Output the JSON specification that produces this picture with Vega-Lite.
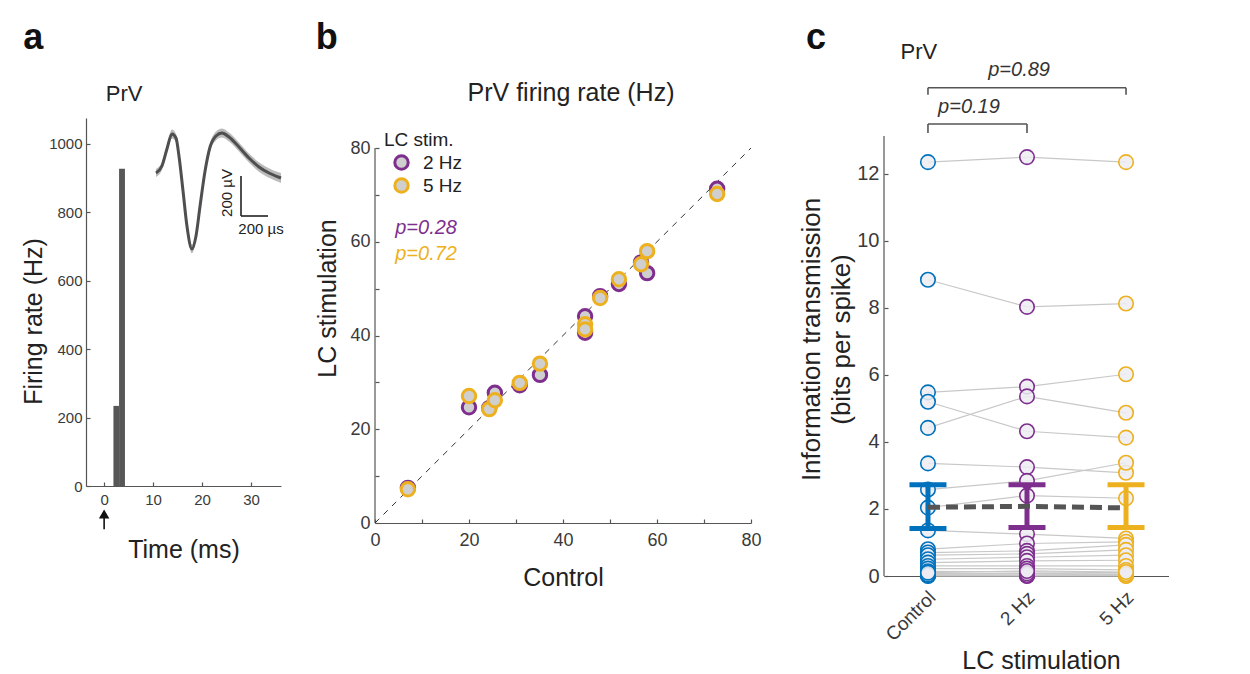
{
  "$schema": "https://vega.github.io/schema/vega-lite/v6.json",
  "padding": {"left": 21, "top": 19, "right": 0, "bottom": 0},
  "config": {
    "font": "Liberation Sans",
    "view": {"stroke": null},
    "axis": {"grid": false, "labelFlush": false, "domainColor": "#555555", "tickColor": "#555555", "labelColor": "#3a3a3a", "titleColor": "#222222", "titleFontWeight": "normal", "domainWidth": 1.2, "tickWidth": 1.2, "labelFont": "Liberation Sans", "titleFont": "Liberation Sans"},
    "legend": {"labelFont": "Liberation Sans", "labelColor": "#222222"}
  },
  "spacing": 28,
  "resolve": {"scale": {"stroke": "independent", "color": "independent"}, "legend": {"stroke": "independent", "color": "independent"}},
  "hconcat": [
    {
      "width": 195,
      "height": 368,
      "resolve": {"scale": {"x": "independent", "y": "independent"}},
      "layer": [
        {
          "data": {"values": [{"t0": 1.9, "t1": 3.05, "rate": 234}, {"t0": 3.05, "t1": 4.25, "rate": 927}]},
          "mark": {"type": "rect", "color": "#575757"},
          "encoding": {
            "x": {"field": "t0", "type": "quantitative", "scale": {"domain": [-3.7, 36.1], "nice": false, "zero": false},
              "axis": {"title": "Time (ms)", "values": [0, 10, 20, 30], "tickSize": -4, "labelPadding": 10, "labelFontSize": 15, "titleFontSize": 25, "titlePadding": 30}},
            "x2": {"field": "t1"},
            "y": {"field": "rate", "type": "quantitative", "scale": {"domain": [0, 1075], "nice": false, "zero": false},
              "axis": {"title": "Firing rate (Hz)", "format": "d", "values": [0, 200, 400, 600, 800, 1000], "tickSize": -4, "labelPadding": 8, "labelFontSize": 15, "titleFontSize": 25, "titlePadding": 2, "titleY": 203}},
            "y2": {"datum": 0}
          }
        },
        {
          "layer": [
            {
              "data": {"values": [{}]},
              "mark": {"type": "rule", "color": "#111111", "strokeWidth": 1.6},
              "encoding": {
                "x": {"datum": 0, "type": "quantitative", "scale": {"domain": [-3.7, 36.1], "nice": false, "zero": false}, "axis": null},
                "y": {"datum": -82, "type": "quantitative", "scale": {"domain": [0, 1075], "nice": false, "zero": false}, "axis": null},
                "y2": {"datum": -126}
              }
            },
            {
              "data": {"values": [{}]},
              "mark": {"type": "point", "shape": "triangle-up", "filled": true, "color": "#111111", "size": 110, "opacity": 1},
              "encoding": {
                "x": {"datum": 0, "type": "quantitative", "scale": {"domain": [-3.7, 36.1], "nice": false, "zero": false}, "axis": null},
                "y": {"datum": -82, "type": "quantitative", "scale": {"domain": [0, 1075], "nice": false, "zero": false}, "axis": null}
              }
            },
            {
              "data": {"values": [{}]},
              "mark": {"type": "text", "text": "PrV", "fontSize": 22, "align": "center", "baseline": "alphabetic", "color": "#222222"},
              "encoding": {
                "x": {"datum": 4.1, "type": "quantitative", "scale": {"domain": [-3.7, 36.1], "nice": false, "zero": false}, "axis": null},
                "y": {"datum": 1126, "type": "quantitative", "scale": {"domain": [0, 1075], "nice": false, "zero": false}, "axis": null}
              }
            },
            {
              "data": {"values": [{}]},
              "mark": {"type": "text", "text": "a", "fontSize": 36, "fontWeight": "bold", "align": "left", "baseline": "alphabetic", "color": "#111111"},
              "encoding": {
                "x": {"datum": -16.5, "type": "quantitative", "scale": {"domain": [-3.7, 36.1], "nice": false, "zero": false}, "axis": null},
                "y": {"datum": 1278, "type": "quantitative", "scale": {"domain": [0, 1075], "nice": false, "zero": false}, "axis": null}
              }
            }
          ]
        },
        {
          "layer": [
            {
              "data": {"values": [
                {"us": 0, "uv": 0, "lo": -20, "hi": 20}, {"us": 44, "uv": 35, "lo": 15, "hi": 55}, {"us": 81, "uv": 120, "lo": 100, "hi": 140},
                {"us": 118, "uv": 195, "lo": 173, "hi": 217}, {"us": 148, "uv": 175, "lo": 155, "hi": 195}, {"us": 170, "uv": 85, "lo": 65, "hi": 105},
                {"us": 200, "uv": -90, "lo": -110, "hi": -70}, {"us": 229, "uv": -265, "lo": -285, "hi": -245}, {"us": 266, "uv": -380, "lo": -402, "hi": -358},
                {"us": 296, "uv": -315, "lo": -335, "hi": -295}, {"us": 326, "uv": -165, "lo": -185, "hi": -145}, {"us": 363, "uv": 10, "lo": -10, "hi": 30},
                {"us": 400, "uv": 130, "lo": 110, "hi": 150}, {"us": 444, "uv": 185, "lo": 163, "hi": 207}, {"us": 488, "uv": 200, "lo": 177, "hi": 223},
                {"us": 540, "uv": 180, "lo": 157, "hi": 203}, {"us": 614, "uv": 130, "lo": 107, "hi": 153}, {"us": 688, "uv": 75, "lo": 52, "hi": 98},
                {"us": 762, "uv": 30, "lo": 6, "hi": 54}, {"us": 836, "uv": 0, "lo": -24, "hi": 24}, {"us": 925, "uv": -25, "lo": -50, "hi": 0}
              ]},
              "mark": {"type": "area", "color": "#b4b4b4", "opacity": 0.9, "interpolate": "monotone"},
              "encoding": {
                "x": {"field": "us", "type": "quantitative", "scale": {"domain": [-518, 925], "nice": false, "zero": false}, "axis": null},
                "y": {"field": "lo", "type": "quantitative", "scale": {"domain": [-1565, 275], "nice": false, "zero": false}, "axis": null},
                "y2": {"field": "hi"}
              }
            },
            {
              "data": {"values": [
                {"us": 0, "uv": 0}, {"us": 44, "uv": 35}, {"us": 81, "uv": 120}, {"us": 118, "uv": 195}, {"us": 148, "uv": 175}, {"us": 170, "uv": 85},
                {"us": 200, "uv": -90}, {"us": 229, "uv": -265}, {"us": 266, "uv": -380}, {"us": 296, "uv": -315}, {"us": 326, "uv": -165}, {"us": 363, "uv": 10},
                {"us": 400, "uv": 130}, {"us": 444, "uv": 185}, {"us": 488, "uv": 200}, {"us": 540, "uv": 180}, {"us": 614, "uv": 130}, {"us": 688, "uv": 75},
                {"us": 762, "uv": 30}, {"us": 836, "uv": 0}, {"us": 925, "uv": -25}
              ]},
              "mark": {"type": "line", "color": "#4f4f4f", "strokeWidth": 3, "interpolate": "monotone"},
              "encoding": {
                "x": {"field": "us", "type": "quantitative", "scale": {"domain": [-518, 925], "nice": false, "zero": false}, "axis": null},
                "y": {"field": "uv", "type": "quantitative", "scale": {"domain": [-1565, 275], "nice": false, "zero": false}, "axis": null}
              }
            },
            {
              "data": {"values": [{}]},
              "mark": {"type": "rule", "color": "#222222", "strokeWidth": 1.6},
              "encoding": {
                "x": {"datum": 629, "type": "quantitative", "scale": {"domain": [-518, 925], "nice": false, "zero": false}, "axis": null},
                "y": {"datum": -15, "type": "quantitative", "scale": {"domain": [-1565, 275], "nice": false, "zero": false}, "axis": null},
                "y2": {"datum": -215}
              }
            },
            {
              "data": {"values": [{}]},
              "mark": {"type": "rule", "color": "#222222", "strokeWidth": 1.6},
              "encoding": {
                "x": {"datum": 629, "type": "quantitative", "scale": {"domain": [-518, 925], "nice": false, "zero": false}, "axis": null},
                "x2": {"datum": 829},
                "y": {"datum": -215, "type": "quantitative", "scale": {"domain": [-1565, 275], "nice": false, "zero": false}, "axis": null}
              }
            },
            {
              "data": {"values": [{}]},
              "mark": {"type": "text", "text": "200 µV", "fontSize": 15, "angle": 270, "align": "center", "baseline": "middle", "color": "#222222"},
              "encoding": {
                "x": {"datum": 525, "type": "quantitative", "scale": {"domain": [-518, 925], "nice": false, "zero": false}, "axis": null},
                "y": {"datum": -100, "type": "quantitative", "scale": {"domain": [-1565, 275], "nice": false, "zero": false}, "axis": null}
              }
            },
            {
              "data": {"values": [{}]},
              "mark": {"type": "text", "text": "200 µs", "fontSize": 15, "align": "center", "baseline": "alphabetic", "color": "#222222"},
              "encoding": {
                "x": {"datum": 777, "type": "quantitative", "scale": {"domain": [-518, 925], "nice": false, "zero": false}, "axis": null},
                "y": {"datum": -305, "type": "quantitative", "scale": {"domain": [-1565, 275], "nice": false, "zero": false}, "axis": null}
              }
            }
          ]
        }
      ]
    },
    {
      "spacing": 36,
      "resolve": {"scale": {"stroke": "independent", "color": "independent"}, "legend": {"stroke": "independent", "color": "independent"}},
      "hconcat": [
        {
          "width": 376,
          "height": 405,
          "resolve": {"scale": {"x": "independent", "y": "independent"}},
          "layer": [
            {
              "data": {"values": [{"control": 0, "lc": 0}, {"control": 80, "lc": 80}]},
              "mark": {"type": "point", "opacity": 0},
              "encoding": {
                "x": {"field": "control", "type": "quantitative", "scale": {"domain": [0, 80], "nice": false},
                  "axis": {"title": "Control", "values": [0, 10, 20, 30, 40, 50, 60, 70, 80], "labelExpr": "datum.value % 20 == 0 ? datum.label : ''", "tickSize": -4, "labelPadding": 12, "labelFontSize": 18, "titleFontSize": 25, "titlePadding": 16}},
                "y": {"field": "lc", "type": "quantitative", "scale": {"domain": [0, 86.4], "nice": false},
                  "axis": {"title": "LC stimulation", "domain": false, "values": [0, 10, 20, 30, 40, 50, 60, 70, 80], "labelExpr": "datum.value % 20 == 0 ? datum.label : ''", "tickSize": -4, "labelPadding": 9, "labelFontSize": 18, "titleFontSize": 25, "titlePadding": 9, "titleY": 180}}
              }
            },
            {
              "layer": [
                {
                  "data": {"values": [{}]},
                  "mark": {"type": "rule", "color": "#555555", "strokeWidth": 1.2},
                  "encoding": {
                    "x": {"datum": 0, "type": "quantitative", "scale": {"domain": [0, 80], "nice": false}, "axis": null},
                    "y": {"datum": 0, "type": "quantitative", "scale": {"domain": [0, 86.4], "nice": false}, "axis": null},
                    "y2": {"datum": 80}
                  }
                },
                {
                  "data": {"values": [{}]},
                  "mark": {"type": "rule", "strokeDash": [6, 6], "color": "#333333", "strokeWidth": 1},
                  "encoding": {
                    "x": {"datum": 0, "type": "quantitative", "scale": {"domain": [0, 80], "nice": false}, "axis": null},
                    "y": {"datum": 0, "type": "quantitative", "scale": {"domain": [0, 86.4], "nice": false}, "axis": null},
                    "x2": {"datum": 80},
                    "y2": {"datum": 80}
                  }
                },
                {
                  "data": {"values": [
                    {"freq": "2 Hz", "control": 7.0, "lc": 7.5}, {"freq": "2 Hz", "control": 20.0, "lc": 24.7}, {"freq": "2 Hz", "control": 24.3, "lc": 24.5},
                    {"freq": "2 Hz", "control": 25.5, "lc": 27.8}, {"freq": "2 Hz", "control": 30.8, "lc": 29.4}, {"freq": "2 Hz", "control": 35.1, "lc": 31.6},
                    {"freq": "2 Hz", "control": 44.7, "lc": 44.1}, {"freq": "2 Hz", "control": 44.7, "lc": 40.6}, {"freq": "2 Hz", "control": 47.9, "lc": 48.4},
                    {"freq": "2 Hz", "control": 51.9, "lc": 51.0}, {"freq": "2 Hz", "control": 56.6, "lc": 55.6}, {"freq": "2 Hz", "control": 57.9, "lc": 53.3},
                    {"freq": "2 Hz", "control": 72.8, "lc": 71.3},
                    {"freq": "5 Hz", "control": 7.0, "lc": 7.2}, {"freq": "5 Hz", "control": 20.0, "lc": 27.1}, {"freq": "5 Hz", "control": 24.3, "lc": 24.3},
                    {"freq": "5 Hz", "control": 25.5, "lc": 26.2}, {"freq": "5 Hz", "control": 30.8, "lc": 29.9}, {"freq": "5 Hz", "control": 35.1, "lc": 34.0},
                    {"freq": "5 Hz", "control": 44.7, "lc": 42.4}, {"freq": "5 Hz", "control": 44.7, "lc": 41.3}, {"freq": "5 Hz", "control": 47.9, "lc": 48.0},
                    {"freq": "5 Hz", "control": 51.9, "lc": 52.0}, {"freq": "5 Hz", "control": 56.6, "lc": 55.2}, {"freq": "5 Hz", "control": 57.9, "lc": 58.0},
                    {"freq": "5 Hz", "control": 72.8, "lc": 70.2}
                  ]},
                  "mark": {"type": "point", "shape": "circle", "filled": true, "fill": "#cfcfcf", "strokeWidth": 3, "size": 180, "opacity": 1},
                  "encoding": {
                    "x": {"field": "control", "type": "quantitative", "scale": {"domain": [0, 80], "nice": false}, "axis": null},
                    "y": {"field": "lc", "type": "quantitative", "scale": {"domain": [0, 86.4], "nice": false}, "axis": null},
                    "stroke": {"field": "freq", "type": "nominal", "scale": {"domain": ["2 Hz", "5 Hz"], "range": ["#7E2F8E", "#EDB120"]},
                      "legend": {"orient": "none", "legendX": 17, "legendY": 35, "title": null, "labelFontSize": 19, "symbolSize": 180, "symbolStrokeWidth": 3, "symbolFillColor": "#cfcfcf", "symbolType": "circle", "rowPadding": -6, "labelOffset": 12, "padding": 0}}
                  }
                },
                {
                  "data": {"values": [{}]},
                  "mark": {"type": "text", "text": "PrV firing rate (Hz)", "fontSize": 25, "align": "center", "baseline": "middle", "color": "#222222"},
                  "encoding": {
                    "x": {"datum": 41.7, "type": "quantitative", "scale": {"domain": [0, 80], "nice": false}, "axis": null},
                    "y": {"datum": 91.7, "type": "quantitative", "scale": {"domain": [0, 86.4], "nice": false}, "axis": null}
                  }
                },
                {
                  "data": {"values": [{}]},
                  "mark": {"type": "text", "text": "LC stim.", "fontSize": 19, "align": "left", "baseline": "alphabetic", "color": "#222222"},
                  "encoding": {
                    "x": {"datum": 1.9, "type": "quantitative", "scale": {"domain": [0, 80], "nice": false}, "axis": null},
                    "y": {"datum": 80.4, "type": "quantitative", "scale": {"domain": [0, 86.4], "nice": false}, "axis": null}
                  }
                },
                {
                  "data": {"values": [{}]},
                  "mark": {"type": "text", "text": "p=0.28", "fontSize": 20, "fontStyle": "italic", "align": "left", "baseline": "middle", "color": "#7E2F8E"},
                  "encoding": {
                    "x": {"datum": 4.3, "type": "quantitative", "scale": {"domain": [0, 80], "nice": false}, "axis": null},
                    "y": {"datum": 62.9, "type": "quantitative", "scale": {"domain": [0, 86.4], "nice": false}, "axis": null}
                  }
                },
                {
                  "data": {"values": [{}]},
                  "mark": {"type": "text", "text": "p=0.72", "fontSize": 20, "fontStyle": "italic", "align": "left", "baseline": "middle", "color": "#EDB120"},
                  "encoding": {
                    "x": {"datum": 4.3, "type": "quantitative", "scale": {"domain": [0, 80], "nice": false}, "axis": null},
                    "y": {"datum": 57.4, "type": "quantitative", "scale": {"domain": [0, 86.4], "nice": false}, "axis": null}
                  }
                },
                {
                  "data": {"values": [{}]},
                  "mark": {"type": "text", "text": "b", "fontSize": 36, "fontWeight": "bold", "align": "left", "baseline": "alphabetic", "color": "#111111"},
                  "encoding": {
                    "x": {"datum": -12.6, "type": "quantitative", "scale": {"domain": [0, 80], "nice": false}, "axis": null},
                    "y": {"datum": 101.1, "type": "quantitative", "scale": {"domain": [0, 86.4], "nice": false}, "axis": null}
                  }
                }
              ]
            }
          ]
        },
        {
          "width": 285,
          "height": 458,
          "resolve": {"scale": {"x": "independent", "y": "independent"}},
          "layer": [
            {
              "data": {"values": [{"c": 1, "v": 0}, {"c": 3, "v": 12}]},
              "mark": {"type": "point", "opacity": 0},
              "encoding": {
                "x": {"field": "c", "type": "quantitative", "scale": {"domain": [0.556, 3.434], "nice": false, "zero": false},
                  "axis": {"title": "LC stimulation", "values": [1, 2, 3], "labelExpr": "datum.value == 1 ? 'Control' : datum.value == 2 ? '2 Hz' : '5 Hz'", "ticks": false, "labelAngle": -45, "labelAlign": "right", "labelBaseline": "middle", "labelPadding": 18, "labelOffset": 4, "labelFontSize": 19, "titleFontSize": 25, "titlePadding": 4, "titleX": 157}},
                "y": {"field": "v", "type": "quantitative", "scale": {"domain": [0, 13.667], "nice": false},
                  "axis": {"title": ["Information transmission", "(bits per spike)"], "domain": false, "values": [0, 2, 4, 6, 8, 10, 12], "tickSize": -4, "labelPadding": 9, "labelFontSize": 20, "titleFontSize": 26, "titleLineHeight": 30, "titlePadding": 2, "titleY": 221}}
              }
            },
            {
              "layer": [
                {
                  "data": {"values": [{}]},
                  "mark": {"type": "rule", "color": "#555555", "strokeWidth": 1.2},
                  "encoding": {
                    "x": {"datum": 0.556, "type": "quantitative", "scale": {"domain": [0.556, 3.434], "nice": false, "zero": false}, "axis": null},
                    "y": {"datum": 0, "type": "quantitative", "scale": {"domain": [0, 13.667], "nice": false}, "axis": null},
                    "y2": {"datum": 13.13}
                  }
                },
                {
                  "data": {"name": "neurons", "values": [
                    {"n": 1, "c": 1, "v": 12.35}, {"n": 1, "c": 2, "v": 12.5}, {"n": 1, "c": 3, "v": 12.35},
                    {"n": 2, "c": 1, "v": 8.84}, {"n": 2, "c": 2, "v": 8.03}, {"n": 2, "c": 3, "v": 8.13},
                    {"n": 3, "c": 1, "v": 5.48}, {"n": 3, "c": 2, "v": 5.65}, {"n": 3, "c": 3, "v": 6.02},
                    {"n": 4, "c": 1, "v": 5.2}, {"n": 4, "c": 2, "v": 4.32}, {"n": 4, "c": 3, "v": 4.13},
                    {"n": 5, "c": 1, "v": 4.42}, {"n": 5, "c": 2, "v": 5.36}, {"n": 5, "c": 3, "v": 4.87},
                    {"n": 6, "c": 1, "v": 3.36}, {"n": 6, "c": 2, "v": 3.25}, {"n": 6, "c": 3, "v": 3.08},
                    {"n": 7, "c": 1, "v": 2.58}, {"n": 7, "c": 2, "v": 2.84}, {"n": 7, "c": 3, "v": 3.38},
                    {"n": 8, "c": 1, "v": 2.04}, {"n": 8, "c": 2, "v": 2.4}, {"n": 8, "c": 3, "v": 2.32},
                    {"n": 9, "c": 1, "v": 1.36}, {"n": 9, "c": 2, "v": 1.25}, {"n": 9, "c": 3, "v": 1.12},
                    {"n": 10, "c": 1, "v": 0.8}, {"n": 10, "c": 2, "v": 0.97}, {"n": 10, "c": 3, "v": 1.02},
                    {"n": 11, "c": 1, "v": 0.7}, {"n": 11, "c": 2, "v": 0.75}, {"n": 11, "c": 3, "v": 0.93},
                    {"n": 12, "c": 1, "v": 0.62}, {"n": 12, "c": 2, "v": 0.66}, {"n": 12, "c": 3, "v": 0.78},
                    {"n": 13, "c": 1, "v": 0.5}, {"n": 13, "c": 2, "v": 0.56}, {"n": 13, "c": 3, "v": 0.62},
                    {"n": 14, "c": 1, "v": 0.4}, {"n": 14, "c": 2, "v": 0.45}, {"n": 14, "c": 3, "v": 0.47},
                    {"n": 15, "c": 1, "v": 0.3}, {"n": 15, "c": 2, "v": 0.3}, {"n": 15, "c": 3, "v": 0.3},
                    {"n": 16, "c": 1, "v": 0.22}, {"n": 16, "c": 2, "v": 0.22}, {"n": 16, "c": 3, "v": 0.18},
                    {"n": 17, "c": 1, "v": 0.14}, {"n": 17, "c": 2, "v": 0.12}, {"n": 17, "c": 3, "v": 0.1},
                    {"n": 18, "c": 1, "v": 0.07}, {"n": 18, "c": 2, "v": 0.06}, {"n": 18, "c": 3, "v": 0.05},
                    {"n": 19, "c": 1, "v": 0.03}, {"n": 19, "c": 2, "v": 0.02}, {"n": 19, "c": 3, "v": 0.02},
                    {"n": 20, "c": 1, "v": 0.01}, {"n": 20, "c": 2, "v": 0.01}, {"n": 20, "c": 3, "v": 0.01},
                    {"n": 21, "c": 1, "v": 0.0}, {"n": 21, "c": 2, "v": 0.0}, {"n": 21, "c": 3, "v": 0.0},
                    {"n": 22, "c": 1, "v": 0.02}, {"n": 22, "c": 2, "v": 0.03}, {"n": 22, "c": 3, "v": 0.04},
                    {"n": 23, "c": 1, "v": 0.05}, {"n": 23, "c": 2, "v": 0.08}, {"n": 23, "c": 3, "v": 0.06},
                    {"n": 24, "c": 1, "v": 0.1}, {"n": 24, "c": 2, "v": 0.15}, {"n": 24, "c": 3, "v": 0.12}
                  ]},
                  "mark": {"type": "line", "color": "#c8c8c8", "strokeWidth": 1.2},
                  "encoding": {
                    "x": {"field": "c", "type": "quantitative", "scale": {"domain": [0.556, 3.434], "nice": false, "zero": false}, "axis": null},
                    "y": {"field": "v", "type": "quantitative", "scale": {"domain": [0, 13.667], "nice": false}, "axis": null},
                    "detail": {"field": "n", "type": "nominal"}
                  }
                },
                {
                  "data": {"name": "neurons"},
                  "mark": {"type": "point", "shape": "circle", "filled": true, "fill": "#ececf2", "fillOpacity": 0.85, "strokeWidth": 1.6, "size": 210, "opacity": 1},
                  "encoding": {
                    "x": {"field": "c", "type": "quantitative", "scale": {"domain": [0.556, 3.434], "nice": false, "zero": false}, "axis": null},
                    "y": {"field": "v", "type": "quantitative", "scale": {"domain": [0, 13.667], "nice": false}, "axis": null},
                    "stroke": {"field": "c", "type": "nominal", "scale": {"domain": [1, 2, 3], "range": ["#0072BD", "#7E2F8E", "#EDB120"]}, "legend": null}
                  }
                },
                {
                  "data": {"name": "summary", "values": [{"c": 1, "mean": 2.05, "lo": 1.42, "hi": 2.72}, {"c": 2, "mean": 2.08, "lo": 1.45, "hi": 2.72}, {"c": 3, "mean": 2.03, "lo": 1.45, "hi": 2.72}]},
                  "mark": {"type": "rule", "strokeWidth": 5},
                  "encoding": {
                    "x": {"field": "c", "type": "quantitative", "scale": {"domain": [0.556, 3.434], "nice": false, "zero": false}, "axis": null},
                    "y": {"field": "lo", "type": "quantitative", "scale": {"domain": [0, 13.667], "nice": false}, "axis": null},
                    "y2": {"field": "hi"},
                    "stroke": {"field": "c", "type": "nominal", "scale": {"domain": [1, 2, 3], "range": ["#0072BD", "#7E2F8E", "#EDB120"]}, "legend": null}
                  }
                },
                {
                  "data": {"name": "summary"},
                  "mark": {"type": "tick", "orient": "horizontal", "size": 37, "thickness": 5, "opacity": 1},
                  "encoding": {
                    "x": {"field": "c", "type": "quantitative", "scale": {"domain": [0.556, 3.434], "nice": false, "zero": false}, "axis": null},
                    "y": {"field": "hi", "type": "quantitative", "scale": {"domain": [0, 13.667], "nice": false}, "axis": null},
                    "color": {"field": "c", "type": "nominal", "scale": {"domain": [1, 2, 3], "range": ["#0072BD", "#7E2F8E", "#EDB120"]}, "legend": null}
                  }
                },
                {
                  "data": {"name": "summary"},
                  "mark": {"type": "tick", "orient": "horizontal", "size": 37, "thickness": 5, "opacity": 1},
                  "encoding": {
                    "x": {"field": "c", "type": "quantitative", "scale": {"domain": [0.556, 3.434], "nice": false, "zero": false}, "axis": null},
                    "y": {"field": "lo", "type": "quantitative", "scale": {"domain": [0, 13.667], "nice": false}, "axis": null},
                    "color": {"field": "c", "type": "nominal", "scale": {"domain": [1, 2, 3], "range": ["#0072BD", "#7E2F8E", "#EDB120"]}, "legend": null}
                  }
                },
                {
                  "data": {"name": "summary"},
                  "mark": {"type": "line", "color": "#555555", "strokeWidth": 5, "strokeDash": [12, 6]},
                  "encoding": {
                    "x": {"field": "c", "type": "quantitative", "scale": {"domain": [0.556, 3.434], "nice": false, "zero": false}, "axis": null},
                    "y": {"field": "mean", "type": "quantitative", "scale": {"domain": [0, 13.667], "nice": false}, "axis": null}
                  }
                },
                {
                  "data": {"values": [
                    {"x1": 1, "x2": 2, "y1": 13.49, "y2": 13.49}, {"x1": 1, "x2": 1, "y1": 13.22, "y2": 13.49}, {"x1": 2, "x2": 2, "y1": 13.22, "y2": 13.49},
                    {"x1": 1, "x2": 3, "y1": 14.57, "y2": 14.57}, {"x1": 1, "x2": 1, "y1": 14.36, "y2": 14.57}, {"x1": 3, "x2": 3, "y1": 14.36, "y2": 14.57}
                  ]},
                  "mark": {"type": "rule", "color": "#555555", "strokeWidth": 1.6},
                  "encoding": {
                    "x": {"field": "x1", "type": "quantitative", "scale": {"domain": [0.556, 3.434], "nice": false, "zero": false}, "axis": null},
                    "x2": {"field": "x2"},
                    "y": {"field": "y1", "type": "quantitative", "scale": {"domain": [0, 13.667], "nice": false}, "axis": null},
                    "y2": {"field": "y2"}
                  }
                },
                {
                  "data": {"values": [{"label": "p=0.19", "px": 1.414, "py": 13.82}, {"label": "p=0.89", "px": 1.92, "py": 14.93}]},
                  "mark": {"type": "text", "fontSize": 20, "fontStyle": "italic", "align": "center", "baseline": "alphabetic", "color": "#333333"},
                  "encoding": {
                    "x": {"field": "px", "type": "quantitative", "scale": {"domain": [0.556, 3.434], "nice": false, "zero": false}, "axis": null},
                    "y": {"field": "py", "type": "quantitative", "scale": {"domain": [0, 13.667], "nice": false}, "axis": null},
                    "text": {"field": "label"}
                  }
                },
                {
                  "data": {"values": [{}]},
                  "mark": {"type": "text", "text": "PrV", "fontSize": 22, "align": "center", "baseline": "alphabetic", "color": "#222222"},
                  "encoding": {
                    "x": {"datum": 0.909, "type": "quantitative", "scale": {"domain": [0.556, 3.434], "nice": false, "zero": false}, "axis": null},
                    "y": {"datum": 15.43, "type": "quantitative", "scale": {"domain": [0, 13.667], "nice": false}, "axis": null}
                  }
                },
                {
                  "data": {"values": [{}]},
                  "mark": {"type": "text", "text": "c", "fontSize": 36, "fontWeight": "bold", "align": "left", "baseline": "alphabetic", "color": "#111111"},
                  "encoding": {
                    "x": {"datum": -0.232, "type": "quantitative", "scale": {"domain": [0.556, 3.434], "nice": false, "zero": false}, "axis": null},
                    "y": {"datum": 15.73, "type": "quantitative", "scale": {"domain": [0, 13.667], "nice": false}, "axis": null}
                  }
                }
              ]
            }
          ]
        }
      ]
    }
  ]
}
